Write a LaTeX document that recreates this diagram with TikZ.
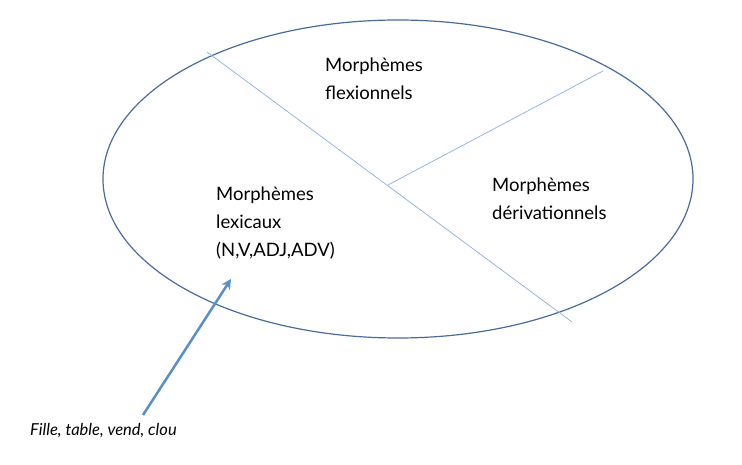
\documentclass[tikz,border=0pt]{standalone}
\usepackage{fontspec}
\setmainfont{Lato}
\usetikzlibrary{shapes.geometric,arrows.meta}
\begin{document}
\begin{tikzpicture}[x=1pt,y=-1pt,
  lbl/.style={anchor=north west,align=left,font=\fontsize{18.5}{28}\selectfont,inner sep=0pt},
  div/.style={draw=divc,line width=0.7pt}]
\definecolor{ellc}{HTML}{4A6B9A}
\definecolor{divc}{HTML}{8CB0DA}
\definecolor{arrc}{HTML}{5B8FC9}
\useasboundingbox (0,0) rectangle (742,465);
\node[draw=ellc,line width=1.2pt,ellipse,minimum width=590pt,minimum height=318pt,inner sep=0pt] (e) at (398,179) {};
\coordinate (a1) at (207,52); \coordinate (a2) at (572,322);
\coordinate (b1) at (388,185); \coordinate (b2) at (603,71);
\draw[div] (a1) -- (a2);
\draw[div] (b1) -- (b2);
\node[lbl] (f) at (325,58) {Morphèmes\\flexionnels};
\node[lbl] (d) at (492,178) {Morphèmes\\dérivationnels};
\node[lbl] (l) at (216,187) {Morphèmes\\lexicaux\\(N,V,ADJ,ADV)};
\node[anchor=west,inner sep=0pt,font=\itshape\fontsize{16.5}{20}\selectfont] (t) at (30,431) {Fille, table, vend, clou};
\coordinate (s) at (143,415); \coordinate (h) at (231,279);
\draw[arrc,line width=2.5pt,-{Stealth[length=10pt,width=10pt]}] (s) -- (h);
\end{tikzpicture}
\end{document}
